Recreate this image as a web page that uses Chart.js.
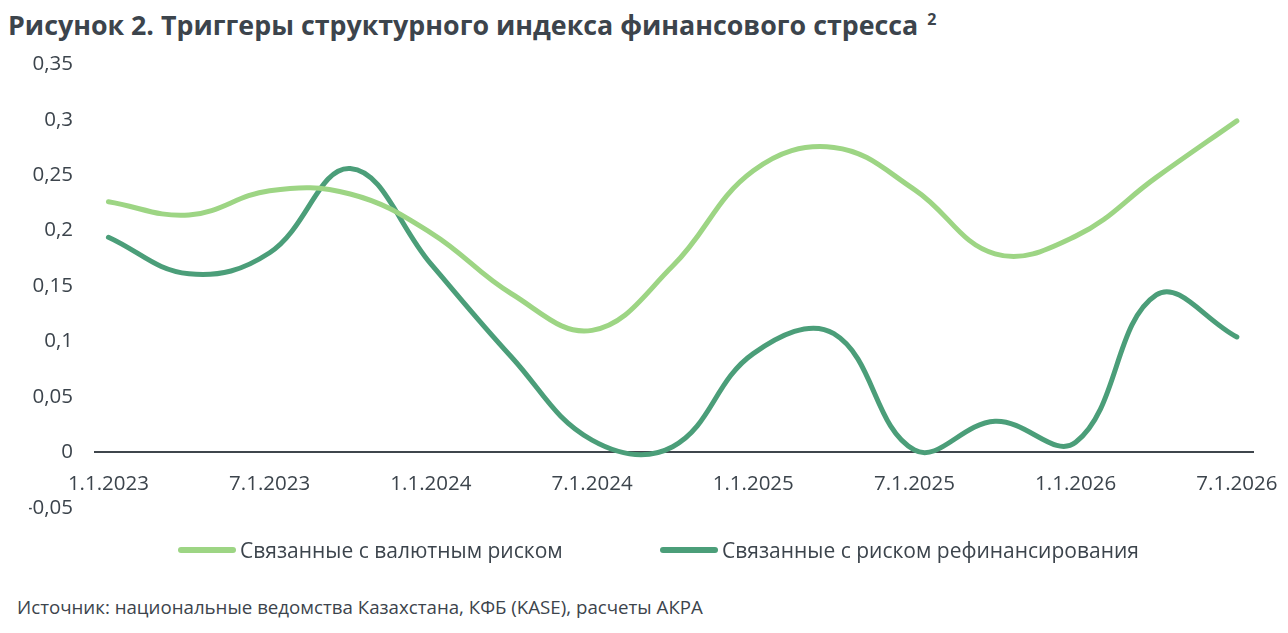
<!DOCTYPE html>
<html lang="ru">
<head>
<meta charset="utf-8">
<script src="https://cdn.jsdelivr.net/npm/chart.js@4.4.1/dist/chart.umd.min.js"></script>
<style>
  html, body { margin: 0; padding: 0; background: #ffffff; width: 1288px; height: 633px; overflow: hidden; }
  #title { position: absolute; left: 8px; top: 1px; font-family: "Open Sans", sans-serif; font-weight: 700; font-size: 26.8px; line-height: 36px; color: #3c444c; white-space: nowrap; }
  #title sup { font-size: 16px; vertical-align: 10px; margin-left: 2px; }
  #wrap { position: absolute; left: 0; top: 30px; width: 1288px; height: 512px; }
  #legend { position: absolute; top: 537px; left: 0; width: 1288px; height: 26px; font-family: "Open Sans", sans-serif; font-size: 21px; color: #3c444c; }
  .item { position: absolute; top: 0; display: flex; align-items: center; height: 26px; white-space: nowrap; }
  .swatch { display: inline-block; width: 58px; height: 6px; border-radius: 3px; margin-right: 4px; }
  #source { position: absolute; left: 17px; top: 594px; font-family: "Open Sans", sans-serif; font-size: 18.7px; line-height: 25px; color: #3c444c; white-space: nowrap; }
</style>
</head>
<body>
<div id="title">Рисунок 2. Триггеры структурного индекса финансового стресса <sup>2</sup></div>
<div id="wrap"><canvas id="c"></canvas></div>
<div id="legend"></div>
<div id="source">Источник: национальные ведомства Казахстана, КФБ (KASE), расчеты АКРА</div>
<script>
// Quarterly observation dates
const categories = ["1.1.2023","4.1.2023","7.1.2023","10.1.2023","1.1.2024","4.1.2024","7.1.2024","10.1.2024","1.1.2025","4.1.2025","7.1.2025","10.1.2025","1.1.2026","4.1.2026","7.1.2026"];
const currencyRisk = [0.226, 0.214, 0.236, 0.233, 0.198, 0.143, 0.110, 0.168, 0.254, 0.275, 0.237, 0.179, 0.195, 0.248, 0.299];
const refinancingRisk = [0.194, 0.161, 0.180, 0.256, 0.170, 0.086, 0.011, 0.005, 0.089, 0.107, 0.002, 0.028, 0.009, 0.142, 0.104];
const seriesNames = ["Связанные с валютным риском", "Связанные с риском рефинансирования"];
const xTickLabels = ["1.1.2023","7.1.2023","1.1.2024","7.1.2024","1.1.2025","7.1.2025","1.1.2026","7.1.2026"];
const yTicks = [-0.05, 0, 0.05, 0.1, 0.15, 0.2, 0.25, 0.3, 0.35];

const LIGHT = "#9dd584";
const DARK = "#4b9e79";
const TEXT = "#3c444c";
const legendLeft = [178, 660];

// month offset of each quarterly observation (3 months apart)
const toPoints = arr => arr.map((v, i) => ({ x: i * 3, y: v }));

const chart = new Chart(document.getElementById("c"), {
  type: "line",
  data: {
    datasets: [
      { label: seriesNames[0], data: toPoints(currencyRisk), borderColor: LIGHT, backgroundColor: LIGHT, borderWidth: 5, pointRadius: 0, tension: 0.4, borderCapStyle: "round" },
      { label: seriesNames[1], data: toPoints(refinancingRisk), borderColor: DARK, backgroundColor: DARK, borderWidth: 5, pointRadius: 0, tension: 0.4, borderCapStyle: "round" }
    ]
  },
  options: {
    responsive: true,
    maintainAspectRatio: false,
    animation: false,
    layout: { padding: { left: 29, right: 35, top: 13, bottom: 15 } },
    plugins: {
      tooltip: { enabled: false },
      legend: { display: false }
    },
    scales: {
      x: {
        type: "linear",
        position: { y: 0 },
        min: -0.5, max: 42.6,
        afterBuildTicks: axis => { axis.ticks = xTickLabels.map((l, i) => ({ value: i * 6 })); },
        afterFit: axis => { axis.height = 0; axis.paddingLeft = 0; axis.paddingRight = 0; },
        ticks: {
          color: TEXT, font: { family: "Open Sans", size: 20.5 }, padding: 20, maxRotation: 0, autoSkip: false,
          callback: (v) => xTickLabels[Math.round(v / 6)]
        },
        grid: { display: false, drawTicks: false },
        border: { display: true, color: "#3f464c", width: 2 }
      },
      y: {
        min: -0.05, max: 0.35,
        afterBuildTicks: axis => { axis.ticks = yTicks.map(v => ({ value: v })); },
        afterFit: axis => { axis.width = 66; },
        ticks: {
          color: TEXT, font: { family: "Open Sans", size: 20.5 }, padding: 22,
          callback: (v) => String(Math.round(v * 100) / 100).replace(".", ",")
        },
        grid: { display: false, drawTicks: false },
        border: { display: false }
      }
    }
  }
});

// legend built from the chart's datasets
const legend = document.getElementById("legend");
chart.data.datasets.forEach((ds, i) => {
  const item = document.createElement("div");
  item.className = "item";
  item.style.left = legendLeft[i] + "px";
  const sw = document.createElement("span");
  sw.className = "swatch";
  sw.style.background = ds.borderColor;
  const tx = document.createElement("span");
  tx.textContent = ds.label;
  item.appendChild(sw);
  item.appendChild(tx);
  legend.appendChild(item);
});
</script>
</body>
</html>
